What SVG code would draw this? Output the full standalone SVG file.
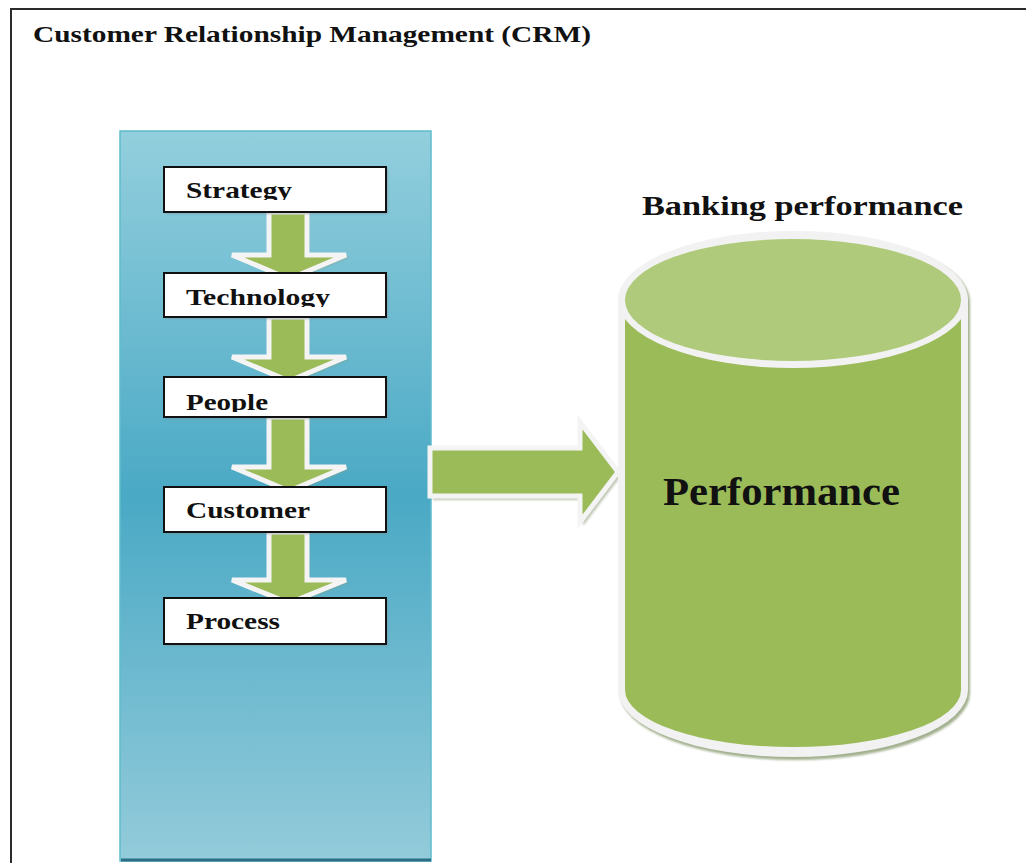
<svg xmlns="http://www.w3.org/2000/svg" width="1026" height="863" viewBox="0 0 1026 863">
  <defs>
    <linearGradient id="panelFill" x1="0" y1="0" x2="0" y2="1">
      <stop offset="0" stop-color="#93cfdd"/>
      <stop offset="0.5" stop-color="#4aa9c5"/>
      <stop offset="1" stop-color="#93cbda"/>
    </linearGradient>
    <filter id="soft" x="-10%" y="-10%" width="120%" height="120%">
      <feGaussianBlur stdDeviation="1.2"/>
    </filter>
    <clipPath id="clipStrategy"><rect x="166" y="169" width="218" height="31"/></clipPath>
    <clipPath id="clipTechnology"><rect x="166" y="275" width="218" height="32"/></clipPath>
    <clipPath id="clipPeople"><rect x="166" y="379" width="218" height="33"/></clipPath>
    <clipPath id="clipCustomer"><rect x="166" y="489" width="218" height="33"/></clipPath>
    <clipPath id="clipProcess"><rect x="166" y="600" width="218" height="33"/></clipPath>
  </defs>
  <style>
    .frame { fill: none; stroke: #2b2b2b; stroke-width: 2; }
    .heading { font-family: "Liberation Serif", "Times New Roman", serif; font-weight: bold; fill: #111; }
    .box { fill: #ffffff; stroke: #111; stroke-width: 2; }
    .boxShadow { fill: #7a8f96; opacity: 0.5; }
    .label { font-family: "Liberation Serif", "Times New Roman", serif; font-weight: bold; font-size: 24px; fill: #111; }
    .flow { fill: #9bbb59; stroke: #f4f4f4; stroke-width: 5; stroke-linejoin: miter; }
    .flowShadow { fill: #8a9a78; opacity: 0.55; }
  </style>

  <rect width="1026" height="863" fill="#ffffff"/>

  <!-- outer frame (open to the right and bottom) -->
  <path class="frame" d="M1026,9 L11,9 L11,863"/>

  <text class="heading" x="33" y="42" font-size="24" textLength="558" lengthAdjust="spacingAndGlyphs">Customer Relationship Management (CRM)</text>

  <!-- CRM panel -->
  <g id="crm-panel">
    <rect x="120" y="131" width="311" height="730" fill="url(#panelFill)" stroke="#5fbccc" stroke-width="1.5"/>
    <line x1="121" y1="860" x2="431" y2="860" stroke="#2a6f85" stroke-width="3"/>
  </g>

  <!-- connectors -->
  <g id="connectors">
    <!-- Strategy -> Technology -->
    <polygon class="flowShadow" points="271,214 309,214 309,257 350,257 291,281 234,257 271,257" filter="url(#soft)"/>
    <polygon class="flow" points="269,212 307,212 307,255 346,255 289,279 232,255 269,255"/>
    <!-- Technology -> People -->
    <polygon class="flowShadow" points="271,319 309,319 309,359 350,359 291,383 234,359 271,359" filter="url(#soft)"/>
    <polygon class="flow" points="269,317 307,317 307,357 346,357 289,381 232,357 269,357"/>
    <!-- People -> Customer -->
    <polygon class="flowShadow" points="271,419 309,419 309,469 350,469 291,493 234,469 271,469" filter="url(#soft)"/>
    <polygon class="flow" points="269,417 307,417 307,467 346,467 289,491 232,467 269,467"/>
    <!-- Customer -> Process -->
    <polygon class="flowShadow" points="271,534 309,534 309,582 350,582 291,605 234,582 271,582" filter="url(#soft)"/>
    <polygon class="flow" points="269,532 307,532 307,580 346,580 289,603 232,580 269,580"/>
    <!-- CRM -> Banking performance -->
    <polygon class="flowShadow" points="433,451 583,451 583,426 621,476 583,526 583,500 433,500" filter="url(#soft)"/>
    <polygon class="flow" points="430,448 580,448 580,422 618,472 580,522 580,496 430,496"/>
  </g>

  <!-- CRM component boxes -->
  <g id="node-strategy">
    <rect class="boxShadow" x="166" y="169" width="222" height="45" filter="url(#soft)"/>
    <rect class="box" x="164" y="167" width="222" height="45"/>
    <text class="label" x="186" y="198" textLength="106" lengthAdjust="spacingAndGlyphs" clip-path="url(#clipStrategy)">Strategy</text>
  </g>
  <g id="node-technology">
    <rect class="boxShadow" x="166" y="275" width="222" height="44" filter="url(#soft)"/>
    <rect class="box" x="164" y="273" width="222" height="44"/>
    <text class="label" x="186" y="305" textLength="144" lengthAdjust="spacingAndGlyphs" clip-path="url(#clipTechnology)">Technology</text>
  </g>
  <g id="node-people">
    <rect class="boxShadow" x="166" y="379" width="222" height="40" filter="url(#soft)"/>
    <rect class="box" x="164" y="377" width="222" height="40"/>
    <text class="label" x="186" y="410" textLength="82" lengthAdjust="spacingAndGlyphs" clip-path="url(#clipPeople)">People</text>
  </g>
  <g id="node-customer">
    <rect class="boxShadow" x="166" y="489" width="222" height="45" filter="url(#soft)"/>
    <rect class="box" x="164" y="487" width="222" height="45"/>
    <text class="label" x="186" y="518" textLength="124" lengthAdjust="spacingAndGlyphs" clip-path="url(#clipCustomer)">Customer</text>
  </g>
  <g id="node-process">
    <rect class="boxShadow" x="166" y="600" width="222" height="46" filter="url(#soft)"/>
    <rect class="box" x="164" y="598" width="222" height="46"/>
    <text class="label" x="186" y="629" textLength="94" lengthAdjust="spacingAndGlyphs" clip-path="url(#clipProcess)">Process</text>
  </g>

  <!-- Banking performance cylinder -->
  <g id="node-banking-performance">
    <text class="heading" x="642" y="215" font-size="27" textLength="321" lengthAdjust="spacingAndGlyphs">Banking performance</text>
    <!-- drop shadow -->
    <path d="M620,302 L620,693 A175,67 0 0 0 970,693 L970,302 A175,69 0 0 0 620,302 Z" fill="#a3b18f" filter="url(#soft)"/>
    <!-- rim -->
    <path d="M618,300 L618,690 A175,67 0 0 0 968,690 L968,300 A175,69 0 0 0 618,300 Z" fill="#f2f2f2"/>
    <!-- body -->
    <path d="M625,300 L625,690 A168,57 0 0 0 961,690 L961,300 Z" fill="#9bbb59"/>
    <!-- lid -->
    <ellipse cx="793" cy="300" rx="175" ry="68" fill="#f2f2f2"/>
    <ellipse cx="793" cy="300" rx="168" ry="61" fill="#afca7a"/>
    <text class="heading" x="663" y="505" font-size="40" textLength="237" lengthAdjust="spacingAndGlyphs">Performance</text>
  </g>
</svg>
